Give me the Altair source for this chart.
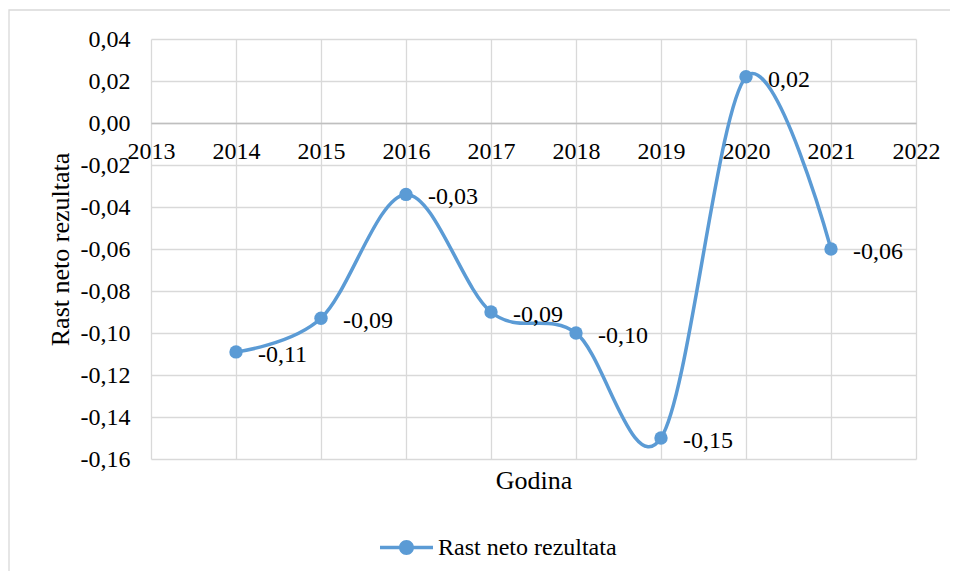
import altair as alt
import pandas as pd

# ---- data ----
years = [2014, 2015, 2016, 2017, 2018, 2019, 2020, 2021]
values = [-0.109, -0.093, -0.034, -0.090, -0.100, -0.150, 0.022, -0.060]
series_name = "Rast neto rezultata"
x_ticks = [2013, 2014, 2015, 2016, 2017, 2018, 2019, 2020, 2021, 2022]
y_ticks = [-0.16, -0.14, -0.12, -0.10, -0.08, -0.06, -0.04, -0.02, 0.00, 0.02, 0.04]
x_title = "Godina"
y_title = "Rast neto rezultata"

df = pd.DataFrame({"Godina": years, "Rast": values, "Serija": [series_name] * len(years)})
frame_df = pd.DataFrame({"f": [0]})

FONT = "Liberation Serif"
BLUE = "#5B9BD5"
GRID = "#d9d9d9"

# comma decimal, hyphen minus (as in the reference)
num_expr = "replace(replace(format(datum.value, '.2f'), '.', ','), '\u2212', '-')"

x = alt.X(
    "Godina:Q",
    scale=alt.Scale(domain=[2013, 2022], nice=False, zero=False),
    axis=alt.Axis(
        values=x_ticks, format="d", orient="bottom", offset=-336, ticks=False, tickSize=0,
        labelPadding=28, labelBaseline="middle", labelFlush=False, labelOverlap=False,
        domainColor="#bfbfbf", domainWidth=1.5, gridColor=GRID,
        title=x_title, titleY=365, titleBaseline="alphabetic",
        labelFont=FONT, titleFont=FONT, labelFontSize=24, titleFontSize=26,
    ),
)
y = alt.Y(
    "Rast:Q",
    scale=alt.Scale(domain=[-0.16, 0.04], nice=False, zero=False),
    axis=alt.Axis(
        values=y_ticks, labelExpr=num_expr, ticks=False, tickSize=0, domain=False,
        labelPadding=21, labelFlush=False, labelOverlap=False, gridColor=GRID,
        title=y_title, titlePadding=7, labelFont=FONT, titleFont=FONT,
        labelFontSize=24, titleFontSize=26,
    ),
)

legend_symbol = "M-1,-0.066H1V0.066H-1Z M0.283,0A0.283,0.283,0,1,1,-0.283,0A0.283,0.283,0,1,1,0.283,0Z"

base = alt.Chart(df).transform_calculate(
    lab="replace(replace(format(datum.Rast, '.2f'), '.', ','), '\u2212', '-')"
)

line = base.mark_line(interpolate="cardinal", color=BLUE, strokeWidth=3.5).encode(x=x, y=y)

points = base.mark_point(filled=True, size=180, opacity=1).encode(
    x=x, y=y,
    color=alt.Color(
        "Serija:N",
        scale=alt.Scale(range=[BLUE]),
        legend=alt.Legend(
            title=None, orient="none", legendX=229, legendY=482, padding=0,
            symbolType=legend_symbol, symbolSize=2809, symbolFillColor=BLUE,
            symbolStrokeWidth=0, labelOffset=5, labelLimit=0, labelFont=FONT,
            labelFontSize=24,
        ),
    ),
)

labels = base.mark_text(
    align="left", baseline="middle", dx=22, dy=3, fontSize=24, font=FONT, color="black"
).encode(x=x, y=y, text="lab:N")

frame = alt.Chart(frame_df).mark_rect(fill=None, stroke=GRID, strokeWidth=1.3).encode(
    x=alt.value(-142), x2=alt.value(900), y=alt.value(-29), y2=alt.value(700)
)

chart = (
    alt.layer(frame, line, points, labels)
    .properties(
        width=765, height=420,
        autosize=alt.AutoSizeParams(type="none"),
        padding={"left": 143, "top": 31, "right": 34, "bottom": 112},
    )
    .configure(font=FONT)
    .configure_axis(
        labelColor="black", titleColor="black", titleFontWeight="normal", gridWidth=1.3,
    )
    .configure_legend(labelColor="black")
    .configure_view(stroke=None)
)

chart.save("out.html", embed_options={"renderer": "svg", "actions": False})
